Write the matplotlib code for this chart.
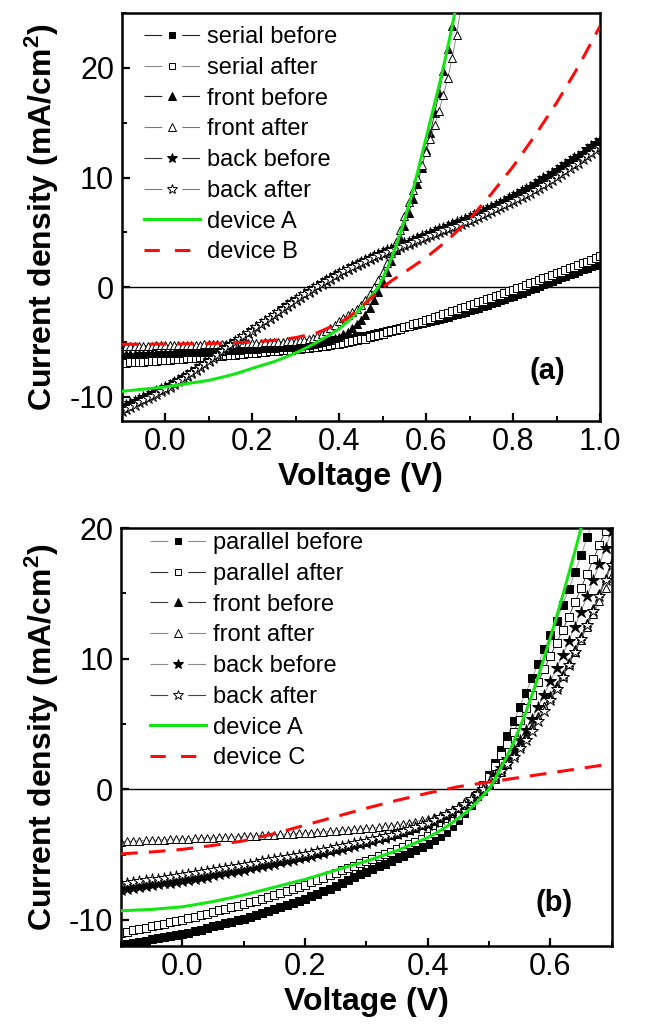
"""
J-V curves of the tandem cells before / after, two panels (a) and (b).
Values read off the published figure by eye.
"""
import matplotlib
matplotlib.use("Agg")
import matplotlib.pyplot as plt
from matplotlib.lines import Line2D
from matplotlib.ticker import MultipleLocator
import numpy as np

plt.rcParams["font.family"] = ["Liberation Sans", "DejaVu Sans"]
plt.rcParams["mathtext.fontset"] = "custom"
plt.rcParams["mathtext.rm"] = "Liberation Sans:bold"
plt.rcParams["mathtext.it"] = "Liberation Sans:bold"
plt.rcParams["mathtext.bf"] = "Liberation Sans:bold"
plt.rcParams["axes.unicode_minus"] = False

# ── Panel (a) data ───────────────────────────────────────────────────────────
VOLT_A = np.round(np.arange(-0.10, 1.0001, 0.01), 2)   # 10 mV sweep

SERIAL_BEFORE_A = [
    -6.40, -6.38, -6.36, -6.34, -6.32, -6.30, -6.28, -6.26, -6.24, -6.22,
    -6.20, -6.17, -6.14, -6.11, -6.08, -6.05, -6.02, -5.99, -5.96, -5.93,
    -5.90, -5.87, -5.84, -5.81, -5.78, -5.75, -5.72, -5.69, -5.66, -5.63,
    -5.60, -5.57, -5.53, -5.50, -5.46, -5.43, -5.39, -5.36, -5.32, -5.29,
    -5.25, -5.21, -5.17, -5.13, -5.08, -5.04, -4.99, -4.94, -4.89, -4.85,
    -4.80, -4.74, -4.68, -4.61, -4.55, -4.48, -4.41, -4.33, -4.26, -4.18,
    -4.10, -4.02, -3.93, -3.85, -3.76, -3.67, -3.58, -3.49, -3.39, -3.30,
    -3.20, -3.10, -3.00, -2.89, -2.79, -2.68, -2.57, -2.46, -2.34, -2.22,
    -2.10, -1.98, -1.86, -1.73, -1.61, -1.48, -1.34, -1.21, -1.07, -0.94,
    -0.80, -0.65, -0.50, -0.35, -0.20, -0.05, 0.11, 0.27, 0.43, 0.59,
    0.75, 0.89, 1.04, 1.18, 1.33, 1.47, 1.62, 1.76, 1.91, 2.05,
    2.20,
]
SERIAL_AFTER_A = [
    -6.90, -6.88, -6.85, -6.83, -6.80, -6.78, -6.75, -6.73, -6.70, -6.68,
    -6.65, -6.62, -6.59, -6.56, -6.53, -6.50, -6.47, -6.44, -6.41, -6.38,
    -6.35, -6.32, -6.28, -6.25, -6.21, -6.18, -6.14, -6.11, -6.07, -6.04,
    -6.00, -5.97, -5.93, -5.90, -5.86, -5.83, -5.79, -5.76, -5.72, -5.69,
    -5.65, -5.61, -5.57, -5.52, -5.47, -5.42, -5.37, -5.32, -5.26, -5.21,
    -5.15, -5.08, -5.01, -4.93, -4.85, -4.77, -4.68, -4.58, -4.47, -4.36,
    -4.25, -4.13, -4.01, -3.89, -3.77, -3.64, -3.51, -3.39, -3.26, -3.13,
    -3.00, -2.87, -2.73, -2.60, -2.46, -2.33, -2.19, -2.06, -1.92, -1.79,
    -1.65, -1.51, -1.37, -1.23, -1.09, -0.95, -0.81, -0.67, -0.53, -0.39,
    -0.25, -0.10, 0.05, 0.20, 0.35, 0.50, 0.65, 0.80, 0.95, 1.10,
    1.25, 1.40, 1.56, 1.71, 1.87, 2.02, 2.18, 2.33, 2.49, 2.64,
    2.80,
]
FRONT_BEFORE_A = [
    -6.10, -6.09, -6.08, -6.07, -6.06, -6.05, -6.04, -6.03, -6.02, -6.01,
    -6.00, -5.99, -5.97, -5.96, -5.94, -5.93, -5.91, -5.90, -5.88, -5.87,
    -5.85, -5.83, -5.81, -5.79, -5.77, -5.75, -5.73, -5.70, -5.68, -5.65,
    -5.62, -5.60, -5.58, -5.56, -5.54, -5.52, -5.50, -5.47, -5.45, -5.42,
    -5.40, -5.35, -5.30, -5.25, -5.20, -5.10, -5.00, -4.90, -4.80, -4.65,
    -4.50, -4.30, -4.05, -3.75, -3.40, -3.00, -2.50, -1.90, -1.20, -0.40,
    0.50, 1.40, 2.40, 3.40, 4.50, 5.60, 6.80, 8.00, 9.40, 10.90,
    12.50, 14.10, 15.90, 17.70, 19.70, 21.70, 23.80, 26.00,
]
FRONT_AFTER_A = [
    -5.35, -5.35, -5.34, -5.34, -5.33, -5.33, -5.32, -5.32, -5.31, -5.31,
    -5.30, -5.29, -5.29, -5.28, -5.27, -5.26, -5.25, -5.24, -5.23, -5.22,
    -5.21, -5.20, -5.19, -5.18, -5.17, -5.16, -5.15, -5.13, -5.12, -5.10,
    -5.09, -5.07, -5.06, -5.04, -5.03, -5.01, -4.99, -4.97, -4.95, -4.93,
    -4.90, -4.86, -4.80, -4.72, -4.60, -4.45, -4.25, -4.00, -3.72, -3.42,
    -3.12, -2.84, -2.57, -2.30, -1.98, -1.60, -1.15, -0.62, -0.02, 0.65,
    1.40, 2.20, 3.10, 4.10, 5.25, 6.50, 7.75, 8.90, 10.00, 11.10,
    12.30, 13.55, 14.80, 16.10, 17.50, 19.10, 20.90, 23.00, 25.40,
]
BACK_BEFORE_A = [
    -10.90, -10.72, -10.54, -10.36, -10.18, -10.00, -9.82, -9.64, -9.46, -9.28,
    -9.10, -8.88, -8.66, -8.44, -8.22, -8.00, -7.72, -7.44, -7.16, -6.88,
    -6.60, -6.32, -6.04, -5.76, -5.48, -5.20, -4.94, -4.68, -4.42, -4.16,
    -3.90, -3.62, -3.34, -3.06, -2.78, -2.50, -2.22, -1.94, -1.66, -1.38,
    -1.10, -0.85, -0.60, -0.35, -0.10, 0.15, 0.38, 0.61, 0.84, 1.07,
    1.30, 1.50, 1.70, 1.90, 2.10, 2.30, 2.48, 2.66, 2.84, 3.02,
    3.20, 3.36, 3.52, 3.68, 3.84, 4.00, 4.16, 4.32, 4.48, 4.64,
    4.80, 4.96, 5.12, 5.28, 5.44, 5.60, 5.76, 5.92, 6.08, 6.24,
    6.40, 6.58, 6.76, 6.94, 7.12, 7.30, 7.50, 7.70, 7.90, 8.10,
    8.30, 8.52, 8.74, 8.96, 9.18, 9.40, 9.66, 9.92, 10.18, 10.44,
    10.70, 10.96, 11.22, 11.48, 11.74, 12.00, 12.28, 12.56, 12.84, 13.12,
    13.40,
]
BACK_AFTER_A = [
    -11.30, -11.10, -10.90, -10.70, -10.50, -10.30, -10.10, -9.90, -9.70, -9.50,
    -9.30, -9.06, -8.82, -8.58, -8.34, -8.10, -7.82, -7.54, -7.26, -6.98,
    -6.70, -6.42, -6.14, -5.86, -5.58, -5.30, -5.03, -4.76, -4.49, -4.22,
    -3.95, -3.67, -3.39, -3.11, -2.83, -2.55, -2.27, -1.99, -1.71, -1.43,
    -1.15, -0.90, -0.65, -0.40, -0.15, 0.10, 0.33, 0.56, 0.79, 1.02,
    1.24, 1.44, 1.64, 1.83, 2.02, 2.21, 2.39, 2.56, 2.73, 2.90,
    3.07, 3.22, 3.37, 3.52, 3.67, 3.82, 3.97, 4.12, 4.27, 4.42,
    4.57, 4.72, 4.87, 5.02, 5.17, 5.32, 5.47, 5.62, 5.77, 5.92,
    6.07, 6.24, 6.41, 6.58, 6.75, 6.92, 7.10, 7.28, 7.46, 7.64,
    7.82, 8.02, 8.22, 8.42, 8.62, 8.82, 9.06, 9.30, 9.54, 9.78,
    10.02, 10.29, 10.56, 10.83, 11.10, 11.37, 11.65, 11.93, 12.21, 12.49,
    12.80,
]
DEVICE_A_A = [
    -9.50, -9.46, -9.42, -9.38, -9.34, -9.30, -9.26, -9.22, -9.18, -9.14,
    -9.10, -9.04, -8.98, -8.92, -8.86, -8.80, -8.74, -8.68, -8.62, -8.56,
    -8.50, -8.41, -8.31, -8.22, -8.12, -8.02, -7.91, -7.79, -7.67, -7.54,
    -7.40, -7.28, -7.16, -7.04, -6.92, -6.80, -6.65, -6.49, -6.33, -6.16,
    -6.00, -5.81, -5.62, -5.42, -5.21, -5.00, -4.77, -4.54, -4.30, -4.05,
    -3.80, -3.47, -3.12, -2.75, -2.35, -1.92, -1.47, -1.00, -0.51, 0.00,
    0.80, 1.65, 2.60, 3.65, 4.80, 6.05, 7.40, 8.85, 10.40,
    12.00, 13.60, 15.20, 16.80, 18.40, 20.10, 21.90, 23.80, 25.80,
]
# device B measured on a coarser grid
VOLT_DEV_B = [-0.10, -0.05, 0.00, 0.05, 0.10, 0.15, 0.20, 0.25, 0.30, 0.35,
              0.40, 0.425, 0.45, 0.475, 0.50, 0.525, 0.55, 0.60, 0.65, 0.70,
              0.75, 0.80, 0.85, 0.90, 0.95, 1.00]
DEVICE_B = [-5.20, -5.20, -5.19, -5.17, -5.14, -5.08, -5.00, -4.85, -4.60, -4.15,
            -3.30, -2.65, -1.85, -0.95, 0.00, 0.70, 1.35, 2.70, 4.30, 6.20,
            8.50, 11.00, 13.80, 16.80, 20.10, 23.80]

# ── Panel (b) data ───────────────────────────────────────────────────────────
VOLT_B = np.round(np.arange(-0.10, 0.7001, 0.01), 2)

PARALLEL_BEFORE_B = [
    -11.90, -11.82, -11.74, -11.66, -11.58, -11.50, -11.42, -11.34, -11.26, -11.18,
    -11.10, -10.98, -10.86, -10.74, -10.62, -10.50, -10.38, -10.26, -10.14, -10.02,
    -9.90, -9.76, -9.62, -9.48, -9.34, -9.20, -9.04, -8.88, -8.72, -8.56,
    -8.40, -8.20, -8.00, -7.80, -7.60, -7.40, -7.18, -6.96, -6.74, -6.52,
    -6.30, -6.10, -5.90, -5.70, -5.50, -5.30, -5.08, -4.86, -4.64, -4.42,
    -4.20, -3.92, -3.60, -3.24, -2.82, -2.34, -1.80, -1.18, -0.45, 0.30,
    1.10, 2.00, 3.00, 4.10, 5.20, 6.30, 7.40, 8.50, 9.60, 10.70,
    11.80, 12.90, 14.10, 15.30, 16.60, 17.90, 19.30, 20.70,
]
PARALLEL_AFTER_B = [
    -11.00, -10.90, -10.80, -10.70, -10.60, -10.50, -10.40, -10.30, -10.20, -10.10,
    -10.00, -9.88, -9.76, -9.64, -9.52, -9.40, -9.28, -9.16, -9.04, -8.92,
    -8.80, -8.66, -8.52, -8.38, -8.24, -8.10, -7.94, -7.78, -7.62, -7.46,
    -7.30, -7.12, -6.94, -6.76, -6.58, -6.40, -6.22, -6.04, -5.86, -5.68,
    -5.50, -5.32, -5.14, -4.96, -4.78, -4.60, -4.40, -4.20, -4.00, -3.80,
    -3.60, -3.36, -3.10, -2.80, -2.46, -2.06, -1.60, -1.06, -0.45, 0.22,
    0.95, 1.75, 2.60, 3.50, 4.40, 5.30, 6.25, 7.20, 8.20, 9.20,
    10.20, 11.20, 12.20, 13.20, 14.30, 15.40, 16.50, 17.60, 18.70, 19.80,
    20.90,
]
FRONT_BEFORE_B = [
    -7.40, -7.34, -7.28, -7.22, -7.16, -7.10, -7.04, -6.98, -6.92, -6.86,
    -6.80, -6.72, -6.64, -6.56, -6.48, -6.40, -6.32, -6.24, -6.16, -6.08,
    -6.00, -5.91, -5.82, -5.73, -5.64, -5.55, -5.46, -5.37, -5.28, -5.19,
    -5.10, -4.99, -4.88, -4.77, -4.66, -4.55, -4.44, -4.33, -4.22, -4.11,
    -4.00, -3.88, -3.76, -3.64, -3.52, -3.40, -3.25, -3.10, -2.94, -2.77,
    -2.60, -2.40, -2.18, -1.94, -1.68, -1.40, -1.08, -0.73, -0.35, 0.05,
    0.50, 1.00, 1.55, 2.15, 2.80, 3.45, 4.15, 4.85, 5.60, 6.40,
    7.20, 8.00, 8.85, 9.75, 10.70, 11.70, 12.75, 13.85, 15.00, 16.20,
    17.40,
]
FRONT_AFTER_B = [
    -4.00, -3.98, -3.96, -3.94, -3.92, -3.90, -3.88, -3.86, -3.84, -3.82,
    -3.80, -3.78, -3.76, -3.74, -3.72, -3.70, -3.68, -3.66, -3.64, -3.62,
    -3.60, -3.58, -3.55, -3.53, -3.50, -3.48, -3.45, -3.43, -3.40, -3.38,
    -3.35, -3.32, -3.28, -3.25, -3.21, -3.18, -3.14, -3.11, -3.07, -3.04,
    -3.00, -2.95, -2.90, -2.84, -2.78, -2.72, -2.64, -2.56, -2.47, -2.38,
    -2.28, -2.16, -2.02, -1.86, -1.68, -1.46, -1.20, -0.90, -0.55, -0.15,
    0.30, 0.80, 1.35, 1.95, 2.60, 3.30, 4.00, 4.75, 5.55, 6.40,
    7.00, 7.85, 8.70, 9.60, 10.50, 11.45, 12.40, 13.40, 14.40, 15.40,
    16.40,
]
BACK_BEFORE_B = [
    -7.70, -7.63, -7.56, -7.49, -7.42, -7.35, -7.28, -7.21, -7.14, -7.07,
    -7.00, -6.92, -6.84, -6.76, -6.68, -6.60, -6.51, -6.42, -6.33, -6.24,
    -6.15, -6.06, -5.97, -5.88, -5.79, -5.70, -5.60, -5.50, -5.40, -5.30,
    -5.20, -5.09, -4.98, -4.87, -4.76, -4.65, -4.54, -4.43, -4.32, -4.21,
    -4.10, -3.97, -3.84, -3.71, -3.58, -3.45, -3.30, -3.15, -3.00, -2.85,
    -2.70, -2.50, -2.28, -2.04, -1.78, -1.50, -1.18, -0.82, -0.42, 0.02,
    0.50, 1.05, 1.65, 2.30, 3.00, 3.75, 4.55, 5.40, 6.30, 7.25,
    8.25, 9.25, 10.30, 11.35, 12.45, 13.60, 14.80, 16.00, 17.25, 18.50,
    19.80,
]
BACK_AFTER_B = [
    -7.20, -7.14, -7.08, -7.02, -6.96, -6.90, -6.84, -6.78, -6.72, -6.66,
    -6.60, -6.52, -6.44, -6.36, -6.28, -6.20, -6.12, -6.04, -5.96, -5.88,
    -5.80, -5.71, -5.62, -5.53, -5.44, -5.35, -5.27, -5.19, -5.11, -5.03,
    -4.95, -4.85, -4.75, -4.65, -4.55, -4.45, -4.35, -4.25, -4.15, -4.05,
    -3.95, -3.83, -3.71, -3.59, -3.47, -3.35, -3.20, -3.05, -2.89, -2.72,
    -2.55, -2.36, -2.15, -1.92, -1.67, -1.40, -1.10, -0.77, -0.40, 0.00,
    0.42, 0.88, 1.38, 1.92, 2.50, 3.12, 3.78, 4.48, 5.22, 6.00,
    6.82, 7.68, 8.58, 9.52, 10.50, 11.52, 12.58, 13.68, 14.82, 16.00,
    17.20,
]
DEVICE_A_B = [
    -9.30, -9.28, -9.26, -9.24, -9.22, -9.20, -9.16, -9.12, -9.08, -9.04,
    -9.00, -8.92, -8.84, -8.76, -8.68, -8.60, -8.50, -8.40, -8.30, -8.20,
    -8.10, -7.98, -7.86, -7.74, -7.62, -7.50, -7.38, -7.26, -7.14, -7.02,
    -6.90, -6.76, -6.62, -6.48, -6.34, -6.20, -6.06, -5.92, -5.78, -5.64,
    -5.50, -5.34, -5.18, -5.02, -4.86, -4.70, -4.50, -4.30, -4.10, -3.90,
    -3.70, -3.45, -3.18, -2.88, -2.56, -2.22, -1.86, -1.46, -1.00, -0.50,
    0.00, 0.80, 1.70, 2.60, 3.60, 4.70, 5.90, 7.20, 8.60, 10.10,
    11.60, 13.20, 14.80, 16.50, 18.20, 20.00, 21.80,
]
VOLT_DEV_C = [-0.10, -0.05, 0.00, 0.05, 0.10, 0.15, 0.20, 0.25, 0.30, 0.35,
              0.40, 0.45, 0.50, 0.55, 0.60, 0.65, 0.70]
DEVICE_C = [-4.95, -4.80, -4.60, -4.30, -3.95, -3.40, -2.75, -2.10, -1.45, -0.85,
            -0.30, 0.20, 0.55, 0.90, 1.25, 1.60, 1.95]

# ── Styling ──────────────────────────────────────────────────────────────────
GREEN = "#14e614"
RED = "#ff0a0a"
MS = {"s": 5.8, "^": 6.4, "*": 8.6}
LEG_MS = {"s": 4.6, "^": 5.2, "*": 7.0}
LEG_FS = 17

# (label, values, marker, filled, line colour)
SERIES_A = [
    ("serial before", SERIAL_BEFORE_A, "s", True, "#222222"),
    ("serial after", SERIAL_AFTER_A, "s", False, "#8a8a8a"),
    ("front before", FRONT_BEFORE_A, "^", True, "#222222"),
    ("front after", FRONT_AFTER_A, "^", False, "#7a7a7a"),
    ("back before", BACK_BEFORE_A, "*", True, "#333333"),
    ("back after", BACK_AFTER_A, "*", False, "#7a7a7a"),
]
SERIES_B = [
    ("parallel before", PARALLEL_BEFORE_B, "s", True, "#8a8a8a"),
    ("parallel after", PARALLEL_AFTER_B, "s", False, "#333333"),
    ("front before", FRONT_BEFORE_B, "^", True, "#333333"),
    ("front after", FRONT_AFTER_B, "^", False, "#8a8a8a"),
    ("back before", BACK_BEFORE_B, "*", True, "#8a8a8a"),
    ("back after", BACK_AFTER_B, "*", False, "#444444"),
]


def draw_panel(ax, volt, series, dev_a, volt_other, dev_other, other_label,
               xlim, ylim, tag, tag_xy, leg_anchor, ylab_x):
    ax.axhline(0, color="k", lw=1.0, zorder=1)

    handles = []
    for i, (label, vals, mk, filled, lc) in enumerate(series):
        fc = "k" if filled else "white"
        ax.plot(volt[:len(vals)], vals, color=lc, lw=0.6, marker=mk, ms=MS[mk],
                mfc=fc, mec="k", mew=0.7, zorder=2 + i * 0.1)
        handles.append(Line2D([], [], color=lc, lw=0.8, ls=(0, (16.0, 18.0)),
                              marker=mk, ms=LEG_MS[mk], mfc=fc, mec="k", mew=0.7,
                              label=label))

    ax.plot(volt[:len(dev_a)], dev_a, color=GREEN, lw=2.2, zorder=4)
    ax.plot(volt_other, dev_other, color=RED, lw=2.2, ls=(0, (5.5, 3.6)), zorder=4)
    handles.append(Line2D([], [], color=GREEN, lw=2.2, label="device A"))
    handles.append(Line2D([], [], color=RED, lw=2.2, ls=(0, (5.0, 5.0)),
                          label=other_label))

    ax.set_xlim(*xlim)
    ax.set_ylim(*ylim)
    ax.xaxis.set_major_locator(MultipleLocator(0.2))
    ax.xaxis.set_minor_locator(MultipleLocator(0.1))
    ax.yaxis.set_major_locator(MultipleLocator(10))
    ax.yaxis.set_minor_locator(MultipleLocator(5))
    ax.xaxis.set_major_formatter(plt.FormatStrFormatter("%.1f"))

    for s in ax.spines.values():
        s.set_linewidth(1.8)
    ax.tick_params(which="major", direction="in", length=6, width=1.6,
                   labelsize=22, top=False, right=False)
    ax.tick_params(which="minor", direction="in", length=3.5, width=1.4,
                   top=False, right=False)
    ax.tick_params(axis="x", pad=4)
    ax.tick_params(axis="y", pad=5.5)

    ax.set_xlabel("Voltage (V)", fontsize=23, fontweight="bold", labelpad=4)
    ax.set_ylabel("Current density (mA/cm$^2$)", fontsize=23, fontweight="bold")
    ax.yaxis.set_label_coords(ylab_x, 0.5)

    ax.text(tag_xy[0], tag_xy[1], tag, transform=ax.transAxes, ha="center",
            va="center", fontsize=21, fontweight="bold")

    ax.legend(handles=handles, loc="upper left", bbox_to_anchor=leg_anchor,
              frameon=False, fontsize=LEG_FS, borderaxespad=0, borderpad=0,
              handlelength=2.38, handletextpad=0.3, labelspacing=0.37)


fig = plt.figure(figsize=(6.67, 10.27), dpi=100)
ax_a = fig.add_axes([0.18246, 0.5901, 0.71709, 0.3972])
ax_b = fig.add_axes([0.18141, 0.07887, 0.73569, 0.40701])

draw_panel(ax_a, VOLT_A, SERIES_A, DEVICE_A_A, VOLT_DEV_B, DEVICE_B, "device B",
           (-0.1, 1.0), (-12.2, 25), "(a)", (0.891, 0.1225), (0.047, 0.968),
           -0.127)
draw_panel(ax_b, VOLT_B, SERIES_B, DEVICE_A_B, VOLT_DEV_C, DEVICE_C, "device C",
           (-0.1, 0.7), (-12, 20), "(b)", (0.882, 0.103), (0.059, 0.99),
           -0.122)

fig.savefig("out.png", dpi=100)
